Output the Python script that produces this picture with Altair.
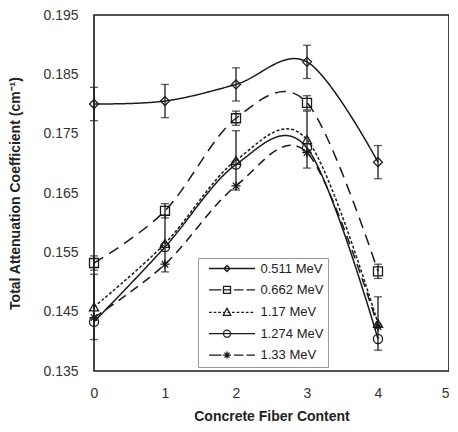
import altair as alt
import pandas as pd

# ---------------- data ----------------
fiber = [0, 1, 2, 3, 4]
series = ["0.511 MeV", "0.662 MeV", "1.17 MeV", "1.274 MeV", "1.33 MeV"]
mu_0511 = [0.1800, 0.1805, 0.1833, 0.1871, 0.1702]
mu_0662 = [0.1532, 0.1620, 0.1776, 0.1802, 0.1518]
mu_117 = [0.1458, 0.1565, 0.1705, 0.1740, 0.1430]
mu_1274 = [0.1433, 0.1559, 0.1698, 0.1726, 0.1404]
mu_133 = [0.1440, 0.1530, 0.1662, 0.1718, 0.1425]
err_0511 = [0.0028, 0.0028, 0.0028, 0.0028, 0.0028]
err_0662 = [0.0012, 0.0012, 0.0012, 0.0012, 0.0012]
err_117 = [0.0055, 0.0048, 0.0050, 0.0048, 0.0045]
err_1274 = [0.0, 0.0, 0.0, 0.0, 0.0]
err_133 = [0.0, 0.0, 0.0, 0.0, 0.0]

y_ticks = [0.135, 0.145, 0.155, 0.165, 0.175, 0.185, 0.195]
x_ticks = [0, 1, 2, 3, 4, 5]

values = [mu_0511, mu_0662, mu_117, mu_1274, mu_133]
errors = [err_0511, err_0662, err_117, err_1274, err_133]

rows = []
for s, vals, errs in zip(series, values, errors):
    for x, v, e in zip(fiber, vals, errs):
        rows.append({"series": s, "x": x, "y": v, "err": e,
                     "lo": v - e, "hi": v + e})
df = pd.DataFrame(rows)

# ---------------- styles ----------------
INK = "#1a1a1a"
FONT = "Liberation Sans"
dashes = [[1, 0], [11, 7], [3, 2], [1, 0], [9, 6]]
asterisk = "M-1,0L1,0M0,-1L0,1M-0.7,-0.7L0.7,0.7M-0.7,0.7L0.7,-0.7"
plot_shapes = ["diamond", "square", "triangle-up", "circle", asterisk]
plot_sizes = [80, 85, 65, 110, 65]

# legend symbols: line + marker, unit = 5 px
def seg(a, b):
    return f"M{a},0L{b},0"

mx = -1.0
m_diamond = f"M{mx},-0.6L{mx+0.6},0L{mx},0.6L{mx-0.6},0Z"
m_square = f"M{mx-0.7},-0.7L{mx+0.7},-0.7L{mx+0.7},0.7L{mx-0.7},0.7Z"
m_tri = f"M{mx},-0.8L{mx+0.75},0.6L{mx-0.75},0.6Z"
m_circle = f"M{mx+0.7},0A0.7,0.7 0 1,1 {mx-0.7},0A0.7,0.7 0 1,1 {mx+0.7},0Z"
m_star = (f"M{mx-0.7},0L{mx+0.7},0M{mx},-0.7L{mx},0.7"
          f"M{mx-0.5},-0.5L{mx+0.5},0.5M{mx-0.5},0.5L{mx+0.5},-0.5")
solid = seg(-4.6, 4.6)
longdash = seg(-4.6, -2.1) + seg(-1.8, -0.2) + seg(0.4, 2.3) + seg(2.9, 4.6)
dotted = "".join(seg(round(-4.6 + 0.92 * i, 2), round(-4.05 + 0.92 * i, 2)) for i in range(10))
legend_paths = [solid + m_diamond, longdash + m_square, dotted + m_tri,
                solid + m_circle, longdash + m_star]

base = alt.Chart(df)

xenc = alt.X("x:Q", scale=alt.Scale(domain=[0, 5], nice=False),
             axis=alt.Axis(values=x_ticks, format="d", title="Concrete Fiber Content",
                           labelAlign=alt.condition("datum.value == 5", alt.value("right"), alt.value("center")),
                           labelPadding=15, titlePadding=9, ticks=False, tickSize=0,
                           domain=False, grid=False))
yenc = alt.Y("y:Q", scale=alt.Scale(domain=[0.135, 0.195], nice=False, zero=False),
             axis=alt.Axis(values=y_ticks, format=".3f",
                           title="Total Attenuation Coefficient (cm\u207b\u00b9)",
                           labelPadding=16, titlePadding=20, ticks=False, tickSize=0,
                           domain=False, grid=False))

lines = base.mark_line(interpolate="cardinal", color=INK, strokeWidth=1.5).encode(
    x=xenc, y=yenc,
    strokeDash=alt.StrokeDash("series:N", scale=alt.Scale(domain=series, range=dashes), legend=None),
    detail="series:N",
)

ebars = base.transform_filter("datum.err > 0")
rules = ebars.mark_rule(color=INK, strokeWidth=1.3).encode(x="x:Q", y="lo:Q", y2="hi:Q")
caps_lo = ebars.mark_tick(color=INK, orient="horizontal", size=8, thickness=1.3).encode(x="x:Q", y="lo:Q")
caps_hi = ebars.mark_tick(color=INK, orient="horizontal", size=8, thickness=1.3).encode(x="x:Q", y="hi:Q")

points = base.mark_point(filled=False, color=INK, strokeWidth=1.3, opacity=1).encode(
    x="x:Q", y="y:Q",
    shape=alt.Shape("series:N", scale=alt.Scale(domain=series, range=plot_shapes), legend=None),
    size=alt.Size("series:N", scale=alt.Scale(domain=series, range=plot_sizes), legend=None),
)

legend_layer = base.transform_filter("false").mark_point(
    filled=False, color=INK, strokeWidth=1.3, size=100, opacity=1).encode(
    x="x:Q", y="y:Q",
    shape=alt.Shape("series:N", scale=alt.Scale(domain=series, range=legend_paths),
                    legend=alt.Legend(title=None, orient="none", legendX=104, legendY=243,
                                      padding=4, rowPadding=7.4, symbolSize=100,
                                      symbolOffset=23.5, labelOffset=22,
                                      symbolStrokeColor=INK, symbolStrokeWidth=1.3,
                                      symbolFillColor="transparent",
                                      labelFont=FONT, labelFontSize=13, labelColor="#222",
                                      strokeColor="#999", fillColor="white")),
)

chart = alt.layer(lines, rules, caps_lo, caps_hi, points, legend_layer).resolve_scale(
    shape="independent"
).properties(
    width=355, height=356, background="white",
    padding={"left": 0, "top": 0, "right": 0, "bottom": 0},
).configure_view(
    stroke=INK, strokeWidth=1.6
).configure_axis(
    labelFont=FONT, labelFontSize=14, labelColor="#333",
    titleFont=FONT, titleFontSize=14, titleFontWeight="bold", titleColor="#222",
)

chart.save("out.html", embed_options={"renderer": "svg", "actions": False})
